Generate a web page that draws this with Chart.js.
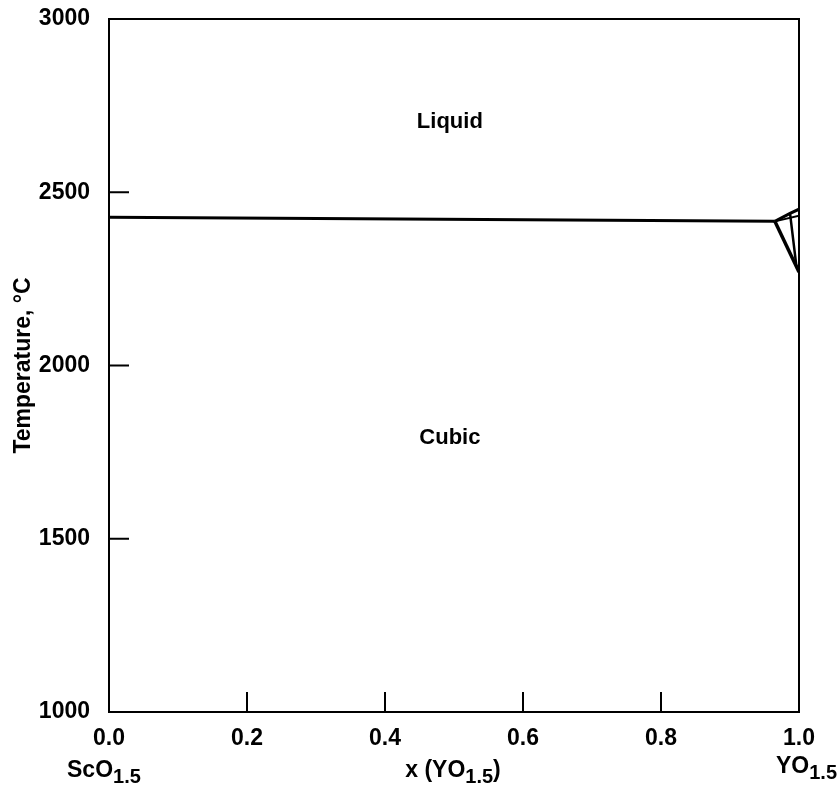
<!DOCTYPE html>
<html>
<head>
<meta charset="utf-8">
<script src="https://cdn.jsdelivr.net/npm/chart.js@4.4.0/dist/chart.umd.min.js"></script>
<style>
  html, body { margin: 0; padding: 0; background: #fff; }
  #wrap { width: 840px; height: 791px; position: relative; }
</style>
</head>
<body>
<div id="wrap"><canvas id="phaseChart" width="840" height="791"></canvas></div>
<script>
// axis ticks
const tickX = [0, 0.2, 0.4, 0.6, 0.8, 1.0];
const tickY = [1000, 1500, 2000, 2500, 3000];

// phase boundaries, x = mole fraction YO1.5, T in deg C
const eutecticX = [0, 0.965];
const eutecticT = [2428, 2416];
const liquidusX = [0.965, 0.987, 1.0];
const liquidusT = [2416, 2439, 2451];
const solidusX = [0.965, 1.0];
const solidusT = [2416, 2270];
const innerX = [0.987, 0.996, 1.0];
const innerT = [2439, 2290, 2270];
const upperX = [0.965, 1.0];
const upperT = [2416, 2432];

// phase field labels
const regionNames = ['Liquid', 'Cubic'];
const regionX = [0.494, 0.494];
const regionT = [2703, 1791];

function pts(xs, ys) {
    return xs.map((v, i) => ({ x: v, y: ys[i] }));
}

function boundary(xs, ys, w) {
    return {
        data: pts(xs, ys),
        borderColor: '#000',
        borderWidth: w,
        pointRadius: 0,
        tension: 0,
        fill: false
    };
}

// draw text with a subscript part, parts = [[text, isSub], ...]
function drawSub(ctx, parts, x, y, align) {
    const big = 'bold 23px "Liberation Sans", Arial, sans-serif';
    const small = 'bold 20px "Liberation Sans", Arial, sans-serif';
    let total = 0;
    parts.forEach(p => { ctx.font = p[1] ? small : big; total += ctx.measureText(p[0]).width; });
    let cx = x;
    if (align === 'center') cx = x - total / 2;
    if (align === 'right') cx = x - total;
    ctx.textAlign = 'left';
    ctx.textBaseline = 'alphabetic';
    parts.forEach(p => {
        ctx.font = p[1] ? small : big;
        ctx.fillText(p[0], cx, p[1] ? y + 6 : y);
        cx += ctx.measureText(p[0]).width;
    });
}

const decor = {
    id: 'decor',
    afterDraw(chart) {
        const { ctx, chartArea: a, scales: { x, y } } = chart;
        ctx.save();
        ctx.strokeStyle = '#000';
        ctx.fillStyle = '#000';
        ctx.lineWidth = 2;
        ctx.strokeRect(a.left, a.top, a.right - a.left, a.bottom - a.top);

        // inward ticks
        ctx.beginPath();
        tickX.forEach(v => {
            if (v > 0 && v < 1) {
                const px = x.getPixelForValue(v);
                ctx.moveTo(px, a.bottom);
                ctx.lineTo(px, a.bottom - 20);
            }
        });
        tickY.forEach(v => {
            if (v > 1000 && v < 3000) {
                const py = y.getPixelForValue(v);
                ctx.moveTo(a.left, py);
                ctx.lineTo(a.left + 20, py);
            }
        });
        ctx.stroke();

        // phase field names
        ctx.font = 'bold 22px "Liberation Sans", Arial, sans-serif';
        ctx.textAlign = 'center';
        ctx.textBaseline = 'middle';
        regionNames.forEach((n, i) => {
            ctx.fillText(n, x.getPixelForValue(regionX[i]), y.getPixelForValue(regionT[i]));
        });

        // composition end members and axis name
        drawSub(ctx, [['ScO', false], ['1.5', true]], 67, 777, 'left');
        drawSub(ctx, [['x (YO', false], ['1.5', true], [')', false]], 453, 777, 'center');
        drawSub(ctx, [['YO', false], ['1.5', true]], 837, 773, 'right');
        ctx.restore();
    }
};

const tickFont = { family: '"Liberation Sans", Arial, sans-serif', size: 23, weight: 'bold' };

new Chart(document.getElementById('phaseChart'), {
    type: 'line',
    data: {
        datasets: [
            boundary(eutecticX, eutecticT, 3),
            boundary(liquidusX, liquidusT, 3),
            boundary(solidusX, solidusT, 3.5),
            boundary(innerX, innerT, 2.5),
            boundary(upperX, upperT, 2)
        ]
    },
    options: {
        responsive: false,
        animation: false,
        layout: { padding: { top: 19, right: 41, left: 0, bottom: 0 } },
        plugins: {
            legend: { display: false },
            tooltip: { enabled: false }
        },
        scales: {
            x: {
                type: 'linear',
                min: 0,
                max: 1,
                afterBuildTicks: s => { s.ticks = tickX.map(v => ({ value: v })); },
                afterFit: s => { s.height = 79; s.paddingLeft = 0; s.paddingRight = 0; },
                grid: { display: false },
                border: { display: false },
                ticks: {
                    color: '#000',
                    font: tickFont,
                    padding: 5,
                    maxRotation: 0,
                    callback: v => v.toFixed(1)
                }
            },
            y: {
                type: 'linear',
                min: 1000,
                max: 3000,
                afterBuildTicks: s => { s.ticks = tickY.map(v => ({ value: v })); },
                afterFit: s => { s.width = 109; s.paddingTop = 0; s.paddingBottom = 0; },
                grid: { display: false },
                border: { display: false },
                ticks: {
                    color: '#000',
                    font: tickFont,
                    padding: 11,
                    callback: v => String(v)
                },
                title: {
                    display: true,
                    text: 'Temperature, °C',
                    color: '#000',
                    font: tickFont,
                    padding: { top: 10, bottom: 0 }
                }
            }
        }
    },
    plugins: [decor]
});
</script>
</body>
</html>
